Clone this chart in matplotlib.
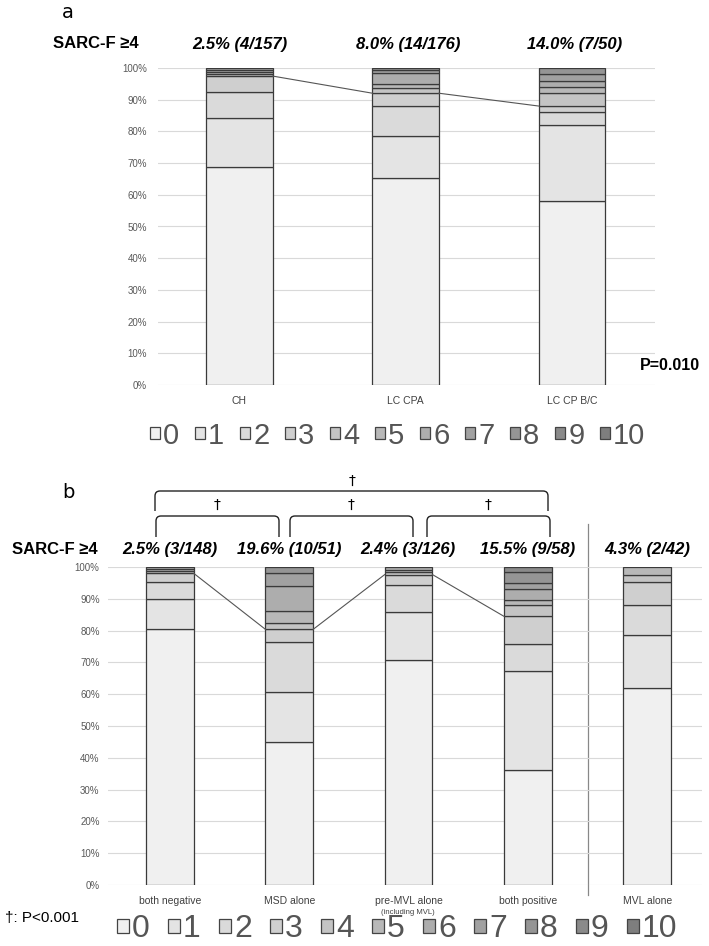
import numpy as np
import matplotlib.pyplot as plt
from matplotlib.path import Path
from matplotlib.patches import PathPatch, Rectangle

plt.rcParams['font.family'] = ['Liberation Sans', 'DejaVu Sans']

scores = [str(i) for i in range(11)]
shades = ['#f0f0f0', '#e4e4e4', '#dadada', '#cfcfcf', '#c4c4c4', '#b8b8b8',
          '#adadad', '#a1a1a1', '#959595', '#8a8a8a', '#7e7e7e']

# panel a: number of patients per SARC-F score (0..10)
groups_a = ['CH', 'LC CPA', 'LC CP B/C']
counts_a = [
    [108, 24, 13, 8, 1, 1, 1, 1, 0, 0, 0],
    [115, 23, 17, 7, 3, 2, 6, 2, 1, 0, 0],
    [29, 12, 2, 1, 2, 1, 1, 1, 1, 0, 0],
]
labels_a = ['2.5% (4/157)', '8.0% (14/176)', '14.0% (7/50)']

# panel b
groups_b = ['both negative', 'MSD alone', 'pre-MVL alone', 'both positive', 'MVL alone']
counts_b = [
    [119, 14, 8, 4, 1, 1, 1, 0, 0, 0, 0],
    [23, 8, 8, 2, 1, 2, 4, 2, 1, 0, 0],
    [89, 19, 11, 4, 1, 1, 1, 0, 0, 0, 0],
    [21, 18, 5, 5, 2, 1, 2, 1, 2, 1, 0],
    [26, 7, 4, 3, 1, 1, 0, 0, 0, 0, 0],
]
labels_b = ['2.5% (3/148)', '19.6% (10/51)', '2.4% (3/126)', '15.5% (9/58)', '4.3% (2/42)']

W, H = 709, 946
fig = plt.figure(figsize=(W / 100, H / 100), dpi=100)


def px_axes(x0, y0, x1, y1):
    # pixel box (top-left origin) -> axes
    return fig.add_axes([x0 / W, 1 - y1 / H, (x1 - x0) / W, (y1 - y0) / H])


def stacked(ax, groups, counts, n_linked, pad):
    bw = 0.4
    x = np.arange(len(groups))
    thr = []
    for i, c in enumerate(counts):
        c = np.array(c, dtype=float)
        pct = c / c.sum() * 100
        bottom = 0
        for k in range(len(pct)):
            if pct[k] > 0:
                ax.bar(x[i], pct[k], bw, bottom=bottom, color=shades[k],
                       edgecolor='#3a3a3a', linewidth=0.9, zorder=3)
            bottom += pct[k]
        thr.append(pct[:4].sum())
    for i in range(n_linked - 1):
        ax.plot([x[i] + bw / 2, x[i + 1] - bw / 2], [thr[i], thr[i + 1]],
                color='#555555', lw=0.8, zorder=4)
    ax.set_ylim(0, 100)
    ax.set_yticks(range(0, 101, 10))
    ax.set_yticklabels([f'{v}%' for v in range(0, 101, 10)])
    ax.set_xticks(x)
    ax.set_xticklabels(groups)
    ax.tick_params(axis='y', length=0, pad=pad, labelsize=7, labelcolor='#595959')
    ax.tick_params(axis='x', length=0, pad=8, labelsize=7.5, labelcolor='#404040')
    ax.grid(axis='y', color='#d9d9d9', lw=0.8, zorder=0)
    for s in ax.spines.values():
        s.set_visible(False)
    ax.set_facecolor('none')


ax_a = px_axes(158, 68, 655, 385)
stacked(ax_a, groups_a, counts_a, 3, 8)
ax_a.set_xlim(-0.49, 2.50)

ax_b = px_axes(108, 567, 702, 885)
stacked(ax_b, groups_b, counts_b, 4, 6)
ax_b.set_xlim(-0.52, 4.46)

# overlay in pixel coordinates for annotations
ov = fig.add_axes([0, 0, 1, 1], zorder=-1)
ov.set_xlim(0, W)
ov.set_ylim(H, 0)
ov.axis('off')


def bracket(x0, x1, ytop, ybot, r=5):
    verts = [(x0, ybot), (x0, ytop + r), (x0, ytop), (x0 + r, ytop),
             (x1 - r, ytop), (x1, ytop), (x1, ytop + r), (x1, ybot)]
    codes = [Path.MOVETO, Path.LINETO, Path.CURVE3, Path.CURVE3,
             Path.LINETO, Path.CURVE3, Path.CURVE3, Path.LINETO]
    ov.add_patch(PathPatch(Path(verts, codes), fill=False, lw=1.0, ec='#222222'))


def legend(x0, step, y, sq, fs):
    for k, s in enumerate(scores):
        x = x0 + k * step
        ov.add_patch(Rectangle((x, y - sq * 0.75), sq * 0.85, sq, fc=shades[k],
                               ec='#444444', lw=0.9))
        ov.text(x + sq * 0.85 + 3, y, s, fontsize=fs, color='#555555',
                ha='left', va='center')


# panel a texts
ov.text(62, 12, 'a', fontsize=14, ha='left', va='center', family='DejaVu Sans')
ov.text(53, 44, 'SARC-F \u22654', fontsize=12, fontweight='bold', ha='left', va='center')
for xc, t in zip([240, 408, 575], labels_a):
    ov.text(xc, 44, t, fontsize=12, fontweight='bold', fontstyle='italic',
            ha='center', va='center')
ov.text(640, 365, 'P=0.010', fontsize=11.5, fontweight='bold', ha='left', va='center')
legend(150, 45, 436, 12, 21)

# panel b texts
ov.text(62, 492, 'b', fontsize=14, ha='left', va='center', family='DejaVu Sans')
bracket(155, 548, 491, 511)
ov.text(352, 481, '\u2020', fontsize=10, ha='center', va='center', family='DejaVu Sans')
for x0, x1 in [(156, 279), (290, 413), (427, 550)]:
    bracket(x0, x1, 516, 537)
    ov.text((x0 + x1) / 2, 505, '\u2020', fontsize=10, ha='center', va='center',
            family='DejaVu Sans')
ov.text(12, 549, 'SARC-F \u22654', fontsize=12, fontweight='bold', ha='left', va='center')
for xc, t in zip([170, 289, 408, 528, 647], labels_b):
    ov.text(xc, 549, t, fontsize=12, fontweight='bold', fontstyle='italic',
            ha='center', va='center')
ov.plot([588, 588], [524, 895], color='#888888', lw=0.9)
ov.text(408, 912, '(including MVL)', fontsize=5.5, color='#404040', ha='center', va='center')
ov.text(5, 918, '\u2020: P<0.001', fontsize=11, ha='left', va='center')
legend(117, 51, 929, 14, 23)

fig.savefig('out.png', dpi=100)
